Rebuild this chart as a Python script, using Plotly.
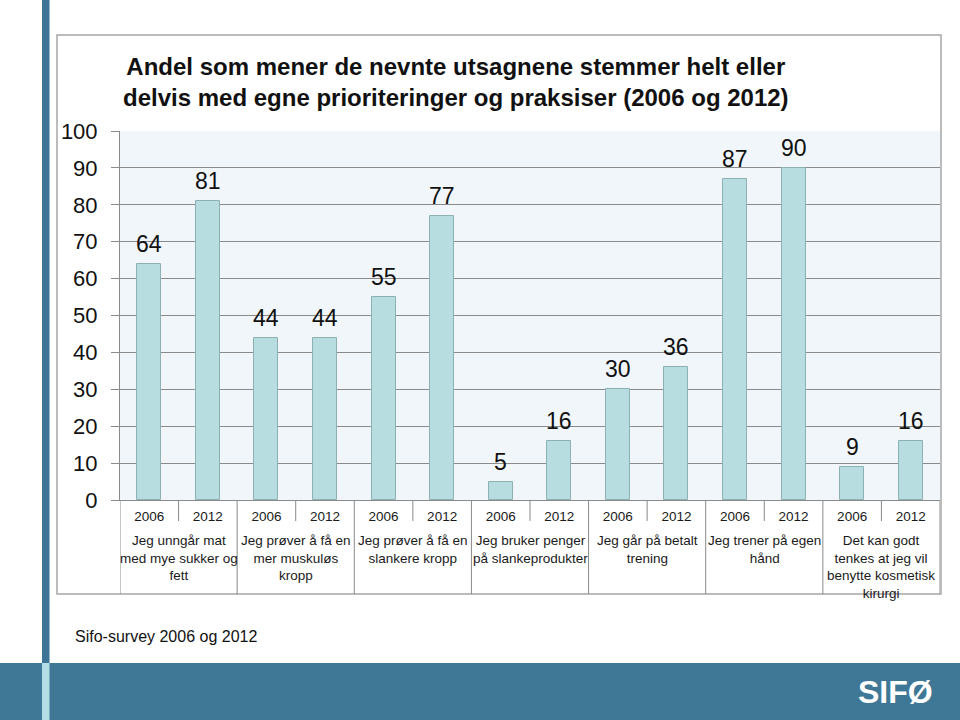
import plotly.graph_objects as go

years = ["2006", "2012"] * 7
values = [64, 81, 44, 44, 55, 77, 5, 16, 30, 36, 87, 90, 9, 16]
categories = [
    "Jeg unngår mat<br>med mye sukker og<br>fett",
    "Jeg prøver å få en<br>mer muskuløs<br>kropp",
    "Jeg prøver å få en<br>slankere kropp",
    "Jeg bruker penger<br>på slankeprodukter",
    "Jeg går på betalt<br>trening",
    "Jeg trener på egen<br>hånd",
    "Det kan godt<br>tenkes at jeg vil<br>benytte kosmetisk<br>kirurgi",
]
title_text = "Andel som mener de nevnte utsagnene stemmer helt eller<br>delvis med egne prioriteringer og praksiser (2006 og 2012)"
source_text = "Sifo-survey 2006 og 2012"

W, H = 960, 720
L, R, T, B = 120, 940, 131, 500
PW, PH = R - L, B - T


def px(x):
    return (x - L) / PW


def py(y):
    return (B - y) / PH


FONT = "Liberation Sans, Arial, sans-serif"
xs = list(range(len(values)))

fig = go.Figure()
fig.add_trace(go.Bar(
    x=xs, y=values, width=0.41,
    marker=dict(color="#b7dde1", line=dict(color="#8fb0b3", width=1)),
    hoverinfo="skip",
))

annotations = []
for xi, v in zip(xs, values):
    annotations.append(dict(
        x=xi, y=v, xref="x", yref="y", text=str(v), showarrow=False,
        yanchor="bottom", yshift=5, font=dict(size=23, color="#111", family=FONT),
    ))
for k, c in enumerate(categories):
    annotations.append(dict(
        x=2 * k + 0.5, y=py(531), xref="x", yref="paper", text=c, showarrow=False,
        yanchor="top", xanchor="center", align="center",
        font=dict(size=13.5, color="#1a1a1a", family=FONT),
    ))
annotations.append(dict(
    x=px(456), y=py(82), xref="paper", yref="paper", text="<b>" + title_text + "</b>",
    showarrow=False, xanchor="center", yanchor="middle", align="center",
    font=dict(size=24, color="#111", family="Liberation Sans Narrow, Arial Narrow, Liberation Sans, Arial"),
))
annotations.append(dict(
    x=px(73), y=py(636), xref="paper", yref="paper", text=source_text,
    showarrow=False, xanchor="left", yanchor="middle",
    font=dict(size=16, color="#111", family=FONT),
))
annotations.append(dict(
    x=px(935), y=py(692), xref="paper", yref="paper", text="<b>SIFØ</b>",
    showarrow=False, xanchor="right", yanchor="middle",
    font=dict(size=32, color="white", family="Liberation Sans Narrow, Arial Narrow, Liberation Sans, Arial"),
))

shapes = []
# page decorations
shapes.append(dict(type="rect", xref="paper", yref="paper", x0=px(42), x1=px(49.5), y0=py(663), y1=py(0),
                   fillcolor="#3d7597", line=dict(width=0), layer="below"))
shapes.append(dict(type="rect", xref="paper", yref="paper", x0=px(0), x1=px(960), y0=py(720), y1=py(663),
                   fillcolor="#3f7896", line=dict(width=0), layer="below"))
shapes.append(dict(type="rect", xref="paper", yref="paper", x0=px(42), x1=px(49.5), y0=py(720), y1=py(663),
                   fillcolor="#b5dde5", line=dict(width=0), layer="below"))
# chart frame
shapes.append(dict(type="rect", xref="paper", yref="paper", x0=px(57), x1=px(941), y0=py(594), y1=py(35),
                   fillcolor="rgba(0,0,0,0)", line=dict(color="#a6a6a6", width=1.5), layer="below"))
# category dividers (full height) and year dividers (short)
for k in range(8):
    xv = 2 * k - 0.5
    shapes.append(dict(type="line", xref="x", yref="paper", x0=xv, x1=xv, y0=py(500), y1=py(594),
                       line=dict(color="#8a8a8a", width=1)))
for k in range(7):
    xv = 2 * k + 0.5
    shapes.append(dict(type="line", xref="x", yref="paper", x0=xv, x1=xv, y0=py(500), y1=py(521),
                       line=dict(color="#8a8a8a", width=1)))

fig.update_layout(
    width=W, height=H,
    margin=dict(l=L, r=W - R, t=T, b=H - B, pad=0),
    paper_bgcolor="white", plot_bgcolor="#f0f6fa",
    showlegend=False, bargap=0,
    annotations=annotations, shapes=shapes,
    font=dict(family=FONT, color="#111"),
)
fig.update_xaxes(
    range=[-0.5, 13.5], tickmode="array", tickvals=xs, ticktext=years,
    tickfont=dict(size=13.5, color="#1a1a1a"), ticks="", showgrid=False, zeroline=False,
    showline=True, linecolor="#8a8a8a", linewidth=1, fixedrange=True,
    ticklabelstandoff=4,
)
fig.update_yaxes(
    range=[0, 100], tickmode="array", tickvals=list(range(0, 101, 10)),
    tickfont=dict(size=22, color="#111"), ticks="outside", ticklen=8, tickcolor="#8a8a8a",
    showgrid=True, gridcolor="#8a8a8a", gridwidth=1, zeroline=False,
    showline=True, linecolor="#8a8a8a", linewidth=1, fixedrange=True,
    ticklabelstandoff=9,
)

fig.write_html(
    "out.html",
    config={"displayModeBar": False},
    post_script="document.body.style.margin='0';document.body.style.padding='0';document.body.style.overflow='hidden';",
)
